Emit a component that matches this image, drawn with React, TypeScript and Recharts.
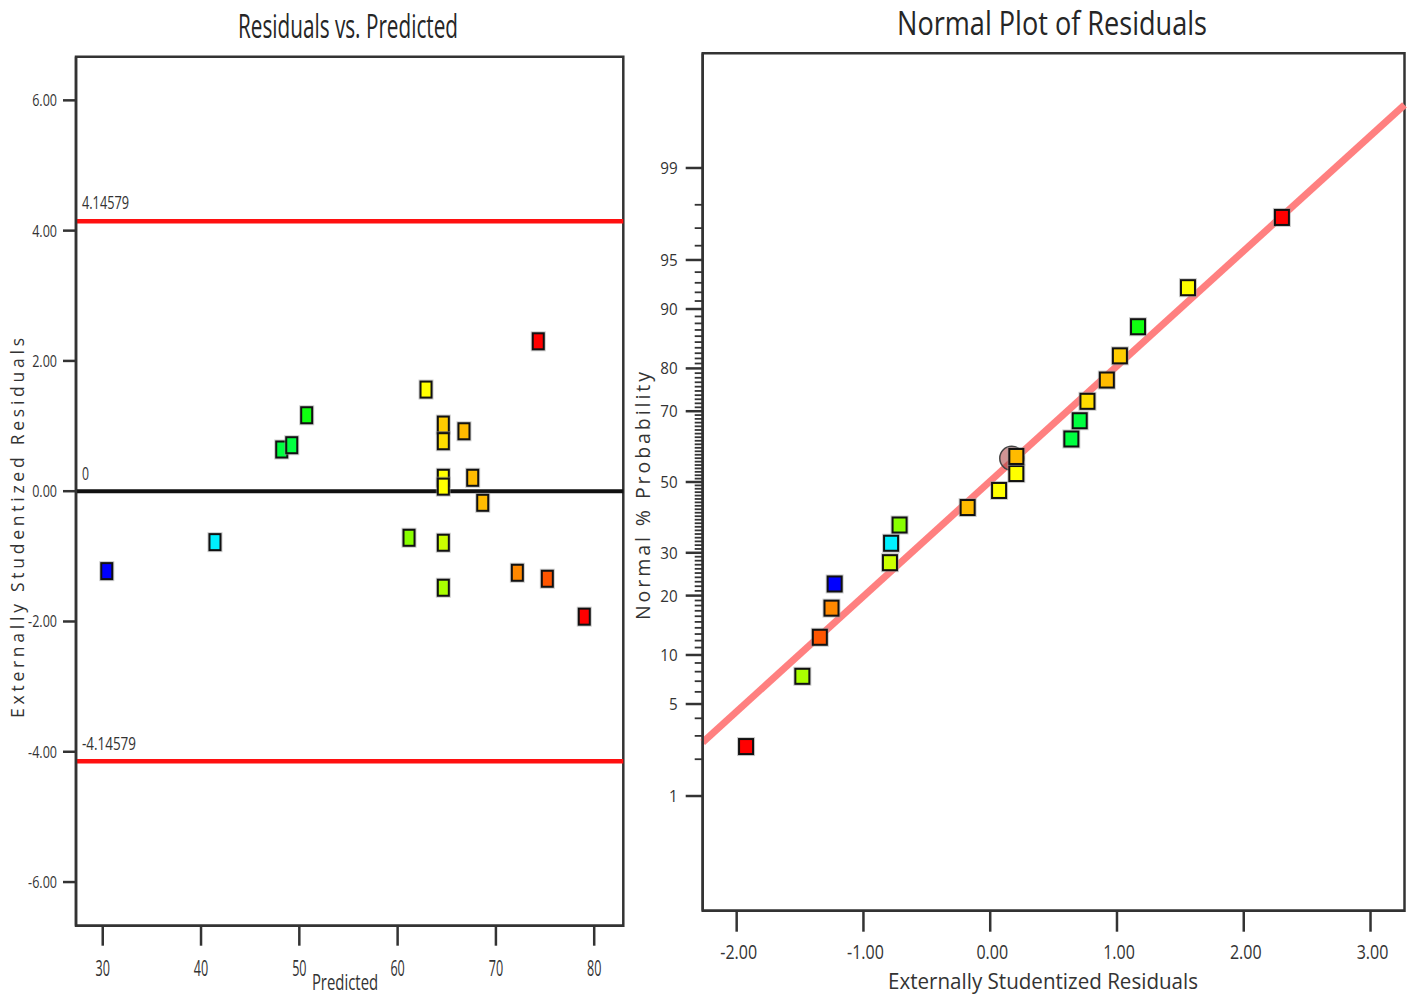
import React from "react";
import { ScatterChart, Scatter, XAxis, YAxis, ReferenceLine, ReferenceArea } from "recharts";

const FONT = "'Open Sans', 'Noto Sans', sans-serif";
const INK = "#333";

// run data (same order in both plots)
const predicted = [30.41, 41.42, 48.21, 49.23, 50.75, 61.16, 62.89, 64.65, 64.65, 64.65, 64.65, 64.65, 64.65, 66.75, 67.64, 68.66, 72.18, 75.23, 74.31, 78.99];
const residuals = [-1.227, -0.782, 0.64, 0.706, 1.166, -0.715, 1.56, 1.023, 0.767, 0.206, 0.07, -0.791, -1.482, 0.92, 0.206, -0.178, -1.252, -1.344, 2.301, -1.926];
const normalProb = [22.5, 32.5, 62.5, 67.5, 87.5, 37.5, 92.5, 82.5, 72.5, 52.5, 47.5, 27.5, 7.5, 77.5, 57.5, 42.5, 17.5, 12.5, 97.5, 2.5];
const pointColors = [
  "#0000ff", "#00f0ff", "#00ff40", "#00ff40", "#10ff10", "#88ff00", "#ffff00", "#ffcc00", "#ffdd00", "#ffff00",
  "#ffff00", "#ccff00", "#aaff00", "#ffbb00", "#ffbb00", "#ffbb00", "#ff8800", "#ff5500", "#ff0000", "#ff0000",
];

const limit = 4.14579;
const fitLineX = [-2.268, 3.268];
const fitLineProb = [2.69, 99.74];
const highlight = { x: 0.17, p: 57.0 };

const leftXTicks = [30, 40, 50, 60, 70, 80];
const leftYTicks = [-6, -4, -2, 0, 2, 4, 6];
const rightXTicks = [-2, -1, 0, 1, 2, 3];
const probLabels = [1, 5, 10, 20, 30, 50, 70, 80, 90, 95, 99];
const probTicks = Array.from({ length: 99 }, (_, i) => i + 1);

const leftX: [number, number] = [27.28, 82.96];
const leftY: [number, number] = [-6.67, 6.67];
const rightX: [number, number] = [-2.268, 3.268];
const rightZ: [number, number] = [-3.176, 3.176];

// inverse normal CDF (Acklam)
function probit(p: number) {
  const a = [-39.69683028665376, 220.9460984245205, -275.9285104469687, 138.357751867269, -30.66479806614716, 2.506628277459239];
  const b = [-54.47609879822406, 161.5858368580409, -155.6989798598866, 66.80131188771972, -13.28068155288572];
  const c = [-0.007784894002430293, -0.3223964580411365, -2.400758277161838, -2.549732539343734, 4.374664141464968, 2.938163982698783];
  const d = [0.007784695709041462, 0.3224671290700398, 2.445134137142996, 3.754408661907416];
  const lo = 0.02425;
  if (p < lo) {
    const q = Math.sqrt(-2 * Math.log(p));
    return (((((c[0] * q + c[1]) * q + c[2]) * q + c[3]) * q + c[4]) * q + c[5]) / ((((d[0] * q + d[1]) * q + d[2]) * q + d[3]) * q + 1);
  }
  if (p <= 1 - lo) {
    const q = p - 0.5;
    const r = q * q;
    return ((((((a[0] * r + a[1]) * r + a[2]) * r + a[3]) * r + a[4]) * r + a[5]) * q) / (((((b[0] * r + b[1]) * r + b[2]) * r + b[3]) * r + b[4]) * r + 1);
  }
  const q = Math.sqrt(-2 * Math.log(1 - p));
  return -(((((c[0] * q + c[1]) * q + c[2]) * q + c[3]) * q + c[4]) * q + c[5]) / ((((d[0] * q + d[1]) * q + d[2]) * q + d[3]) * q + 1);
}

const leftData = predicted.map((x, i) => ({ x, y: residuals[i], color: pointColors[i] }));
const rightData = residuals.map((x, i) => ({ x, z: probit(normalProb[i] / 100), color: pointColors[i] }));
const highlightData = [{ x: highlight.x, z: probit(highlight.p / 100) }];

const Cond = ({ x, y, text, size, sx, anchor = "middle" }: any) => (
  <text transform={`translate(${x},${y}) scale(${sx},1)`} textAnchor={anchor} fontSize={size} fontFamily={FONT} fill={INK}>
    {text}
  </text>
);

const square = (w: number, h: number) => (props: any) => {
  const { cx, cy, payload } = props;
  if (cx == null || cy == null) return <g />;
  return (
    <g>
      <rect x={cx - w / 2 - 1} y={cy - h / 2 - 1} width={w + 2} height={h + 2} fill="none" stroke="#999" strokeOpacity={0.5} strokeWidth={2} />
      <rect x={cx - w / 2} y={cy - h / 2} width={w} height={h} fill={payload.color} stroke="#111" strokeWidth={2} />
    </g>
  );
};

const ring = (props: any) => {
  const { cx, cy } = props;
  if (cx == null || cy == null) return <g />;
  return <circle cx={cx} cy={cy} r={12} fill="rgba(170,60,60,0.55)" stroke="#444" strokeWidth={1.5} />;
};

const LeftXTick = ({ x, y, payload }: any) => <Cond x={x} y={y + 30} text={String(payload.value)} size={21} sx={0.6} />;
const LeftYTick = ({ x, y, payload }: any) => <Cond x={x} y={y + 6} text={payload.value.toFixed(2)} size={17} sx={0.74} anchor="end" />;
const RightXTick = ({ x, y, payload }: any) => <Cond x={x + 2} y={y + 27} text={payload.value.toFixed(2)} size={20} sx={0.8} />;
const RightYTick = ({ x, y, index }: any) => {
  const pct = probTicks[index];
  const major = probLabels.includes(pct);
  return (
    <g>
      <line x1={x - (major ? 17 : 8)} x2={x} y1={y} y2={y} stroke={INK} strokeWidth={major ? 2.5 : 1.8} />
      {major && <Cond x={x - 25} y={y + 6} text={String(pct)} size={16} sx={0.95} anchor="end" />}
    </g>
  );
};

const axisStyle = { stroke: INK, strokeWidth: 2.5 };

export default function App() {
  return (
    <div style={{ position: "absolute", left: 0, top: 0, width: 1414, height: 998, background: "#fff" }}>
      <div style={{ position: "absolute", left: 0, top: 0 }}>
        <ScatterChart width={640} height={998} margin={{ top: 56.7, right: 16.7, bottom: 12.3, left: 0 }}>
          <XAxis type="number" dataKey="x" domain={leftX} allowDataOverflow ticks={leftXTicks} interval={0} height={60}
            tickSize={20} tickMargin={0} axisLine={axisStyle} tickLine={axisStyle} tick={LeftXTick} />
          <YAxis type="number" dataKey="y" domain={leftY} allowDataOverflow ticks={leftYTicks} interval={0} width={76}
            tickSize={13} tickMargin={6} axisLine={axisStyle} tickLine={axisStyle} tick={LeftYTick} />
          <ReferenceArea x1={leftX[0]} x2={leftX[1]} y1={leftY[0]} y2={leftY[1]} fill="none" stroke={INK} strokeWidth={2.5} fillOpacity={0} />
          <ReferenceLine y={limit} stroke="#ff1010" strokeWidth={4.5} />
          <ReferenceLine y={-limit} stroke="#ff1010" strokeWidth={4.5} />
          <ReferenceLine y={0} stroke="#111" strokeWidth={4} />
          <Scatter data={leftData} dataKey="y" shape={square(11, 16)} isAnimationActive={false} />
        </ScatterChart>
      </div>
      <div style={{ position: "absolute", left: 620, top: 0 }}>
        <ScatterChart width={794} height={998} margin={{ top: 53.3, right: 9.5, bottom: 27.3, left: 0 }}>
          <XAxis type="number" dataKey="x" domain={rightX} allowDataOverflow ticks={rightXTicks} interval={0} height={60}
            tickSize={21} tickMargin={0} axisLine={axisStyle} tickLine={axisStyle} tick={RightXTick} />
          <YAxis type="number" dataKey="z" domain={rightZ} allowDataOverflow ticks={probTicks.map((p) => probit(p / 100))}
            interval={0} width={82.7} tickSize={0} tickMargin={0} axisLine={axisStyle} tickLine={false} tick={RightYTick} />
          <ReferenceArea x1={rightX[0]} x2={rightX[1]} y1={rightZ[0]} y2={rightZ[1]} fill="none" stroke={INK} strokeWidth={2.5} fillOpacity={0} />
          <ReferenceLine
            segment={[
              { x: fitLineX[0], y: probit(fitLineProb[0] / 100) },
              { x: fitLineX[1], y: probit(fitLineProb[1] / 100) },
            ]}
            stroke="#ff8080" strokeWidth={7}
          />
          <Scatter data={highlightData} dataKey="z" shape={ring} isAnimationActive={false} />
          <Scatter data={rightData} dataKey="z" shape={square(14, 15)} isAnimationActive={false} />
        </ScatterChart>
      </div>
      <svg width={1414} height={998} style={{ position: "absolute", left: 0, top: 0, pointerEvents: "none" }}>
        <text x={348} y={38} textAnchor="middle" fontSize={32} fontFamily={FONT} fill="#262626" textLength={220} lengthAdjust="spacingAndGlyphs">
          Residuals vs. Predicted
        </text>
        <text x={1052} y={35} textAnchor="middle" fontSize={32} fontFamily={FONT} fill="#262626" textLength={310} lengthAdjust="spacingAndGlyphs">
          Normal Plot of Residuals
        </text>
        <text transform="translate(24,528) rotate(-90)" textAnchor="middle" fontSize={17.5} fontFamily={FONT} fill={INK} textLength={380} lengthAdjust="spacing">
          Externally Studentized Residuals
        </text>
        <text transform="translate(650,496) rotate(-90)" textAnchor="middle" fontSize={19.5} fontFamily={FONT} fill={INK} textLength={248} lengthAdjust="spacing">
          Normal % Probability
        </text>
        <Cond x={345} y={990} text="Predicted" size={21} sx={0.71} />
        <text x={1043} y={989} textAnchor="middle" fontSize={21} fontFamily={FONT} fill={INK} textLength={310} lengthAdjust="spacingAndGlyphs">
          Externally Studentized Residuals
        </text>
        <text x={82} y={209} fontSize={19} fontFamily={FONT} fill={INK} textLength={47} lengthAdjust="spacingAndGlyphs">
          {limit.toFixed(5)}
        </text>
        <text x={82} y={750} fontSize={19} fontFamily={FONT} fill={INK} textLength={54} lengthAdjust="spacingAndGlyphs">
          {(-limit).toFixed(5)}
        </text>
        <text x={82} y={480} fontSize={19} fontFamily={FONT} fill={INK} textLength={7} lengthAdjust="spacingAndGlyphs">
          0
        </text>
      </svg>
    </div>
  );
}
